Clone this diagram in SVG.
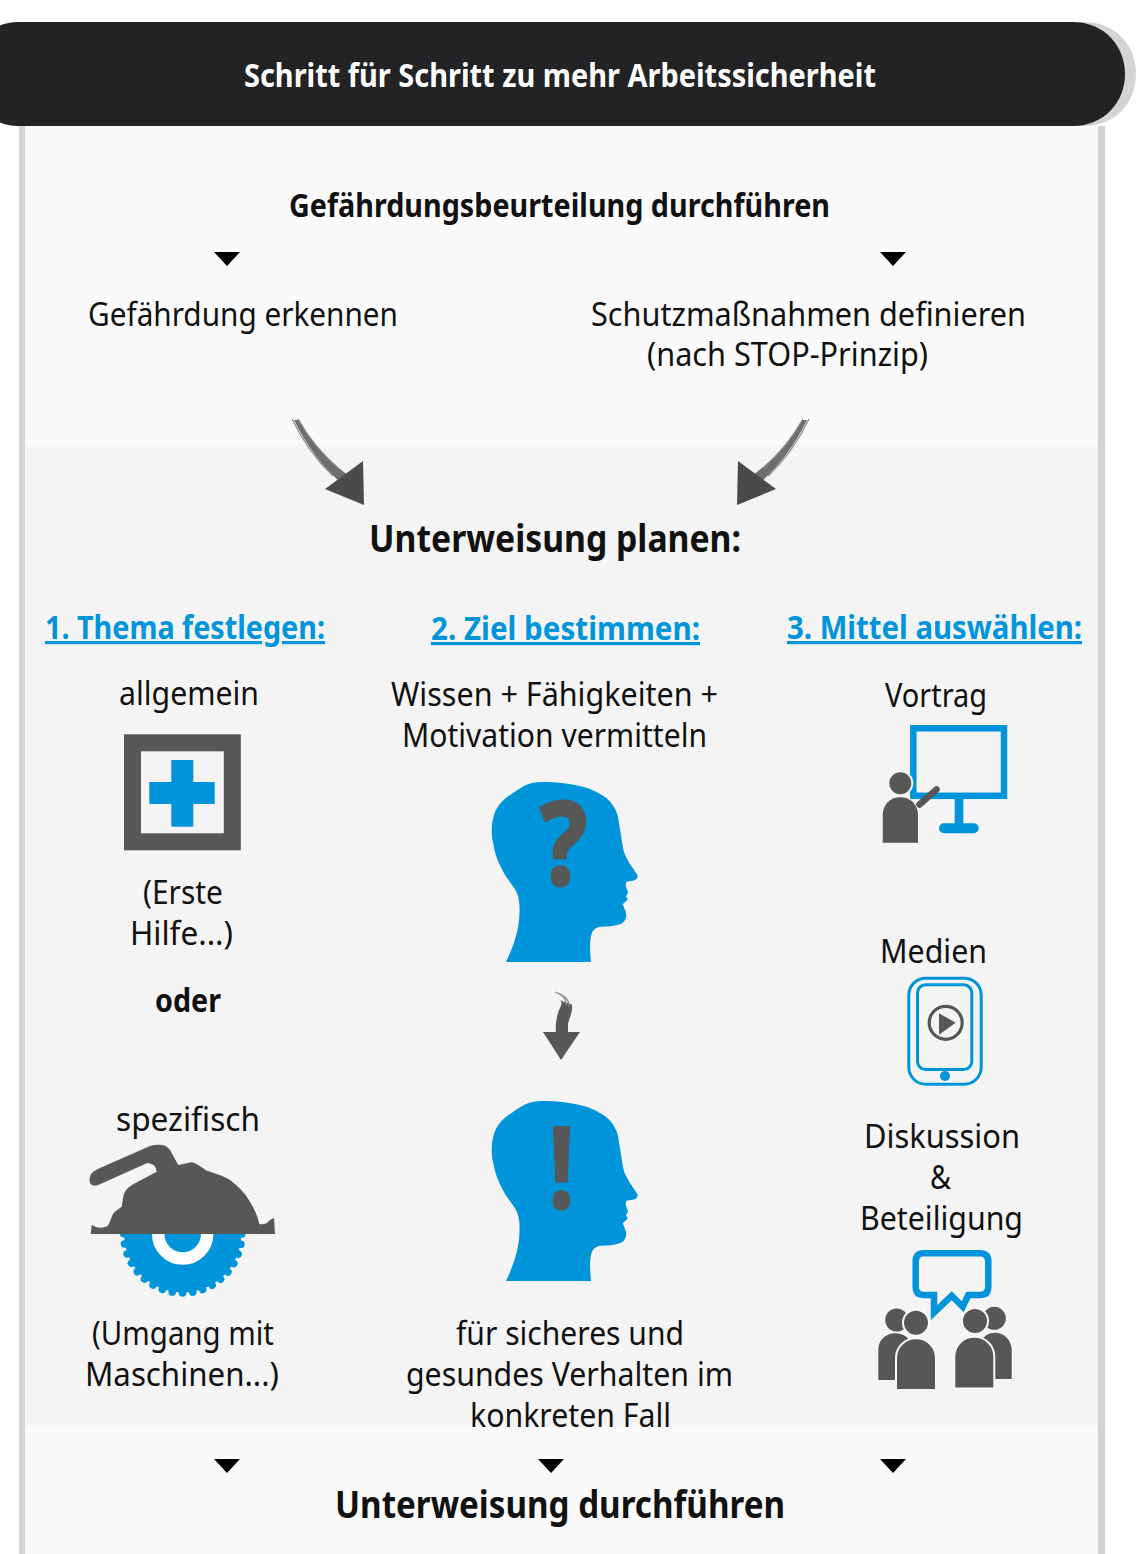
<svg xmlns="http://www.w3.org/2000/svg" width="1140" height="1554" viewBox="0 0 1140 1554">
<style>
text{font-family:"Noto Sans","Liberation Sans",sans-serif;fill:#111;font-size:33px}
.lead{font-weight:700;font-size:33px}
.big{font-weight:700;font-size:37px}
.link{font-weight:700;font-size:32px;fill:#0095db;text-decoration:underline}
.blue{fill:#0095db}
.grey{fill:#575756}
.line{fill:none;stroke:#0095db}
.halo{fill:#575756;stroke:#f8f8f8;stroke-width:2}
.wisp{fill:none;stroke:#8a8a88;stroke-width:1.200}
</style>
<defs>
<path id="head" class="blue" d="M506 962C514 945 519 930 519.500 913C520 900 518 893 513.300 886.700C503 873 496 860 493.500 845C491 835 491 825 494 815C497 806 502 800 513 793C522 787 527 783.500 537 782.300C550 781 568 783 583 786.700C595 790 605 796 610.500 802C615 808 617 812 618 817L622.500 845C623.500 853 626 857 630 864L637.700 875.500C638 878 636.500 880 633 880.700L627 881.500C625.500 883 625.500 885 626 887L628 892.500L626 896.500L627.800 899.500L622.700 904.300L625.500 911C627 916 626 920 623 922.500C618 926 610 926.500 601 926.700C595 927 592 931 591 936C589.500 943 590 952 591 962Z"/>
<path id="tri" d="M-13 0H13L0 14Z" fill="#000"/>
<clipPath id="lowerHalf"><rect x="100" y="1234" width="170" height="80"/></clipPath>
</defs>

<g id="background">
<rect x="25" y="126" width="1073" height="319" fill="#fafafa"/>
<rect x="25" y="445" width="1073" height="982" fill="#f4f4f4"/>
<rect x="25" y="1427" width="1073" height="127" fill="#fafafa"/>
<rect x="19" y="126" width="6" height="1428" fill="#d4d4d4"/>
<rect x="1098" y="126" width="7" height="1428" fill="#d4d4d4"/>
</g>

<g id="title">
<path d="M1070 22H1084C1116 22 1136 46 1136 74C1136 102 1116 126 1084 126H1070Z" fill="#d4d4d4"/>
<path d="M18 22H1073C1104 22 1125 46 1125 74C1125 102 1104 126 1073 126H18C6 126 -4 122 -10 116V32C-4 26 6 22 18 22Z" fill="#232325"/>
<text x="244" y="87" textLength="632" lengthAdjust="spacingAndGlyphs" class="lead" style="fill:#fff">Schritt für Schritt zu mehr Arbeitssicherheit</text>
</g>

<g id="step-assess">
<text x="289" y="217" textLength="541" lengthAdjust="spacingAndGlyphs" class="lead">Gefährdungsbeurteilung durchführen</text>
<text x="88" y="326" textLength="310" lengthAdjust="spacingAndGlyphs">Gefährdung erkennen</text>
<text x="591" y="326" textLength="435" lengthAdjust="spacingAndGlyphs">Schutzmaßnahmen definieren</text>
<text x="647" y="366" textLength="281" lengthAdjust="spacingAndGlyphs">(nach STOP-Prinzip)</text>
</g>

<g id="connectors">
<use href="#tri" x="227" y="252"/>
<use href="#tri" x="893" y="252"/>
<use href="#tri" x="227" y="1459"/>
<use href="#tri" x="551" y="1459"/>
<use href="#tri" x="893" y="1459"/>
<path d="M294 420L299 420C312 444 328 460 349 476L342 484C322 466 306 445 294 420Z" fill="#6e6e6c"/>
<path class="wisp" d="M292 419C303 442 317 461 333 476"/>
<path class="wisp" d="M298 419C310 440 324 456 338 468"/>
<path d="M325 489L363 461L364 505Z" fill="#4a4a48"/>
<path d="M807 420L802 420C789 444 773 460 752 476L759 484C779 466 795 445 807 420Z" fill="#6e6e6c"/>
<path class="wisp" d="M809 419C798 442 784 461 768 476"/>
<path class="wisp" d="M803 419C791 440 777 456 763 468"/>
<path d="M776 489L738 461L737 505Z" fill="#4a4a48"/>
<path d="M560 1000C565 1003 569 1003 572 1005C573 1012 569 1018 568 1024L568 1033H556C555 1024 557 1014 560 1008C562 1004 562 1002 560 1000Z" fill="#575756"/>
<path class="wisp" d="M555 992C562 994 567 999 566 1006"/>
<path class="wisp" d="M558 993C565 996 570 1000 569 1007"/>
<path d="M543 1032H580L561 1060Z" fill="#575756"/>
</g>

<g id="plan-heading">
<text x="369" y="552" textLength="372" lengthAdjust="spacingAndGlyphs" class="big">Unterweisung planen:</text>
</g>

<g id="column-topic">
<text x="45" y="639" textLength="280" lengthAdjust="spacingAndGlyphs" class="link">1. Thema festlegen:</text>
<text x="119" y="705" textLength="140" lengthAdjust="spacingAndGlyphs">allgemein</text>
<rect x="132.500" y="742.800" width="99.800" height="99" fill="none" stroke="#575756" stroke-width="17"/>
<rect x="149.300" y="782" width="65.400" height="22" class="blue"/>
<rect x="171.300" y="760" width="22" height="66.700" class="blue"/>
<text x="143" y="904" textLength="80" lengthAdjust="spacingAndGlyphs">(Erste</text>
<text x="130" y="945" textLength="103" lengthAdjust="spacingAndGlyphs">Hilfe...)</text>
<text x="155" y="1012" textLength="66" lengthAdjust="spacingAndGlyphs" style="font-weight:700">oder</text>
<text x="116" y="1131" textLength="144" lengthAdjust="spacingAndGlyphs">spezifisch</text>
<g clip-path="url(#lowerHalf)">
<circle cx="182.700" cy="1234" r="58.500" class="blue"/>
<circle cx="182.700" cy="1234" r="59" fill="none" stroke="#0095db" stroke-width="7.600" stroke-linecap="round" stroke-dasharray="0.010 10.290"/>
<circle cx="182.700" cy="1234" r="24.500" fill="none" stroke="#fff" stroke-width="12.500"/>
</g>
<path class="grey" d="M90.700 1234L91.700 1225C94 1226 97 1227.700 100 1227.700C104 1227.700 107 1227 108.300 1225C111 1220 112 1214 115 1211.700L121.700 1206.700C123 1200 123 1195 125 1191.700C127 1188 131 1185.500 135 1183.300L156.700 1171.700C156 1168 155 1166 153.300 1165C151 1163.500 149 1163 146.700 1163.300L98.300 1185C95 1186 92 1186 90 1183.300C89 1179 90 1175 91.700 1173.300C93 1171.500 96 1170 100 1168L150 1146C154 1145 158 1144.500 161.700 1145C165 1145.500 168 1147 170 1150L178.300 1165L191.700 1162.300C197 1163 202 1168 206.700 1170.700C214 1173 222 1175 230 1180C238 1186 245 1193 250 1201.700C254 1208 258 1217 259.300 1224C262 1224.500 264 1224 266.700 1223.300C269 1221 271 1218.500 274 1218.300L275 1234Z"/>
<text x="92" y="1345" textLength="182" lengthAdjust="spacingAndGlyphs">(Umgang mit</text>
<text x="85" y="1386" textLength="194" lengthAdjust="spacingAndGlyphs">Maschinen...)</text>
</g>

<g id="column-goal">
<text x="431" y="640" textLength="269" lengthAdjust="spacingAndGlyphs" class="link">2. Ziel bestimmen:</text>
<text x="391" y="706" textLength="327" lengthAdjust="spacingAndGlyphs">Wissen + Fähigkeiten +</text>
<text x="402" y="747" textLength="305" lengthAdjust="spacingAndGlyphs">Motivation vermitteln</text>
<use href="#head"/>
<text x="540" y="885" textLength="47" lengthAdjust="spacingAndGlyphs" style="font-weight:700;font-size:115px;fill:#575756;stroke:#575756;stroke-width:3">?</text>
<use href="#head" y="319"/>
<text x="548" y="1209" textLength="27" lengthAdjust="spacingAndGlyphs" style="font-weight:700;font-size:115px;fill:#575756;stroke:#575756;stroke-width:1">!</text>
<text x="456" y="1345" textLength="228" lengthAdjust="spacingAndGlyphs">für sicheres und</text>
<text x="406" y="1386" textLength="327" lengthAdjust="spacingAndGlyphs">gesundes Verhalten im</text>
<text x="470" y="1427" textLength="201" lengthAdjust="spacingAndGlyphs">konkreten Fall</text>
</g>

<g id="column-means">
<text x="787" y="639" textLength="295" lengthAdjust="spacingAndGlyphs" class="link">3. Mittel auswählen:</text>
<text x="885" y="707" textLength="102" lengthAdjust="spacingAndGlyphs">Vortrag</text>
<rect x="913.300" y="728.300" width="90.700" height="67.500" class="line" stroke-width="6.500"/>
<rect x="954.700" y="799" width="8.600" height="26" class="blue"/>
<rect x="939" y="823.300" width="39.700" height="10" rx="5" class="blue"/>
<circle cx="900.300" cy="783.300" r="12" class="halo" style="stroke:#f4f4f4"/>
<path class="grey" d="M882.700 842.700V815C882.700 805 890 797.300 900.300 797.300C910.600 797.300 918 805 918 815V842.700Z"/>
<path d="M919.500 804.500L936.500 789.500" stroke="#575756" stroke-width="6.500" stroke-linecap="round" fill="none"/>

<text x="880" y="963" textLength="107" lengthAdjust="spacingAndGlyphs">Medien</text>
<rect x="908.800" y="978.200" width="72.400" height="106" rx="17" class="line" stroke-width="3"/>
<rect x="917.500" y="984.800" width="54.300" height="84.700" rx="8" class="line" stroke-width="3"/>
<circle cx="945" cy="1076" r="5" class="blue"/>
<circle cx="945.700" cy="1022.800" r="16.500" fill="none" stroke="#575756" stroke-width="3.200"/>
<path class="grey" d="M939 1013.200L955.700 1022.800L939 1034.800Z"/>

<text x="864" y="1148" textLength="156" lengthAdjust="spacingAndGlyphs">Diskussion</text>
<text x="930" y="1189" textLength="21" lengthAdjust="spacingAndGlyphs">&amp;</text>
<text x="860" y="1230" textLength="163" lengthAdjust="spacingAndGlyphs">Beteiligung</text>
<path class="line" stroke-width="6.500" d="M923.300 1253.300H980Q988.300 1253.300 988.300 1261.700V1286.700Q988.300 1295 980 1295H968.300L962.700 1306.700L951.700 1295.700L934 1312.700V1295H924Q915.700 1295 915.700 1286.700V1261.700Q915.700 1253.300 923.300 1253.300Z"/>
<circle cx="896.700" cy="1320" r="11.500" class="grey"/>
<path class="grey" d="M878.300 1380V1350C878.300 1340 886 1333.300 895 1333.300C903 1333.300 910 1338 912 1345V1380Z"/>
<circle cx="916" cy="1322.700" r="13" class="halo"/>
<path class="halo" d="M896 1390V1358C896 1347 905 1338.300 916 1338.300C927 1338.300 936 1347 936 1358V1390Z"/>
<circle cx="994.300" cy="1318.300" r="11.500" class="grey"/>
<path class="grey" d="M978 1379V1345C982 1337 988 1332.700 995 1332.700C1004 1332.700 1011.700 1340 1011.700 1350V1379Z"/>
<circle cx="975" cy="1321" r="13" class="halo"/>
<path class="halo" d="M954.300 1388.500V1356.500C954.300 1345.500 963.300 1336.700 974.300 1336.700C985.300 1336.700 994.300 1345.500 994.300 1356.500V1388.500Z"/>
</g>

<g id="step-deliver">
<text x="335" y="1518" textLength="450" lengthAdjust="spacingAndGlyphs" class="big">Unterweisung durchführen</text>
</g>
</svg>
